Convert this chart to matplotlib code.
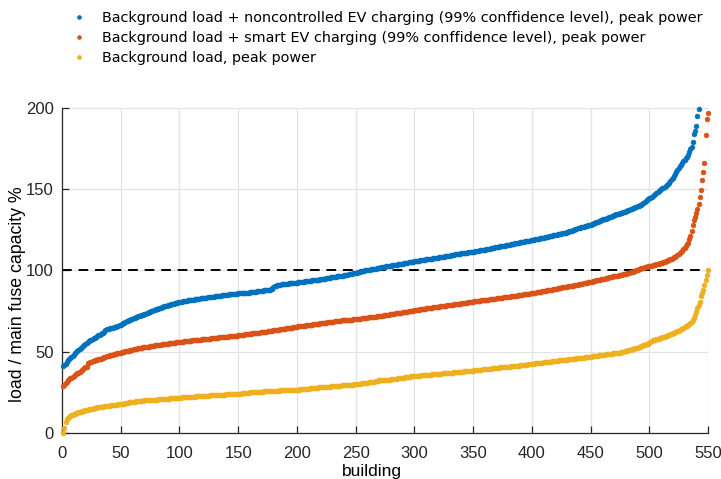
import numpy as np
import matplotlib

matplotlib.use("Agg")
import matplotlib.pyplot as plt  # noqa: E402

plt.rcParams["font.family"] = ["Liberation Sans", "DejaVu Sans"]

BLUE = "#0072BD"
RED = "#D95319"
YELLOW = "#EDB120"
AXC = "#262626"

# peak load per building (% of main fuse capacity), buildings sorted by load
uncontrolled = [
    41.0, 41.6, 42.3, 43.5, 45.0, 45.6, 46.2, 46.9, 47.5, 48.2,
    49.0, 49.8, 50.5, 51.2, 51.9, 52.5, 53.0, 53.6, 54.3, 54.9,
    55.5, 56.0, 56.4, 56.9, 57.3, 57.8, 58.2, 58.7, 59.1, 59.6,
    60.0, 60.4, 60.8, 61.2, 61.6, 62.0, 63.5, 63.7, 63.9, 64.1,
    64.3, 64.5, 64.7, 64.9, 65.1, 65.4, 65.7, 66.1, 66.4, 66.7,
    67.0, 67.4, 67.8, 68.2, 68.6, 69.0, 69.4, 69.7, 70.0, 70.3,
    70.6, 70.9, 71.2, 71.5, 71.8, 72.0, 72.3, 72.5, 72.8, 73.0,
    73.3, 73.6, 73.9, 74.2, 74.5, 74.8, 75.1, 75.4, 75.7, 76.0,
    76.3, 76.5, 76.8, 77.0, 77.3, 77.5, 77.8, 78.0, 78.3, 78.5,
    78.7, 78.9, 79.1, 79.3, 79.5, 79.7, 79.9, 80.1, 80.3, 80.5,
    80.6, 80.8, 80.9, 81.0, 81.2, 81.3, 81.5, 81.6, 81.7, 81.9,
    82.0, 82.1, 82.3, 82.4, 82.5, 82.6, 82.7, 82.8, 82.9, 83.0,
    83.1, 83.2, 83.3, 83.4, 83.5, 83.6, 83.7, 83.8, 83.9, 84.0,
    84.1, 84.2, 84.3, 84.4, 84.5, 84.6, 84.7, 84.8, 84.9, 85.0,
    85.1, 85.2, 85.2, 85.3, 85.4, 85.5, 85.6, 85.7, 85.7, 85.8,
    85.9, 85.9, 86.0, 86.1, 86.1, 86.2, 86.3, 86.3, 86.4, 86.5,
    86.6, 86.7, 86.8, 86.9, 87.0, 87.1, 87.2, 87.3, 87.4, 87.5,
    87.6, 87.7, 87.8, 87.9, 88.0, 88.1, 88.2, 88.3, 88.5, 90.0,
    90.3, 90.6, 90.8, 91.0, 91.2, 91.3, 91.4, 91.5, 91.6, 91.7,
    91.8, 91.9, 92.0, 92.0, 92.1, 92.2, 92.3, 92.3, 92.4, 92.5,
    92.6, 92.7, 92.8, 92.9, 93.0, 93.1, 93.2, 93.3, 93.4, 93.5,
    93.6, 93.7, 93.8, 93.9, 94.0, 94.1, 94.2, 94.3, 94.4, 94.5,
    94.6, 94.8, 94.9, 95.0, 95.2, 95.3, 95.4, 95.6, 95.7, 95.8,
    95.9, 96.0, 96.2, 96.3, 96.4, 96.5, 96.6, 96.7, 96.8, 97.0,
    97.1, 97.3, 97.4, 97.6, 97.7, 97.9, 98.0, 98.2, 98.3, 98.5,
    98.7, 98.9, 99.1, 99.3, 99.5, 99.6, 99.8, 100.0, 100.1, 100.3,
    100.4, 100.5, 100.6, 100.8, 100.9, 101.0, 101.1, 101.2, 101.4, 101.5,
    101.6, 101.8, 101.9, 102.1, 102.2, 102.4, 102.5, 102.7, 102.8, 103.0,
    103.1, 103.2, 103.4, 103.5, 103.6, 103.7, 103.9, 104.0, 104.1, 104.2,
    104.4, 104.5, 104.6, 104.8, 104.9, 105.0, 105.1, 105.2, 105.4, 105.5,
    105.6, 105.7, 105.8, 106.0, 106.1, 106.2, 106.3, 106.4, 106.6, 106.7,
    106.8, 107.0, 107.1, 107.2, 107.3, 107.4, 107.6, 107.7, 107.8, 107.9,
    108.0, 108.1, 108.3, 108.4, 108.5, 108.6, 108.7, 108.9, 109.0, 109.1,
    109.3, 109.4, 109.5, 109.7, 109.8, 109.9, 110.1, 110.2, 110.3, 110.4,
    110.6, 110.7, 110.8, 110.9, 111.0, 111.1, 111.2, 111.3, 111.4, 111.5,
    111.6, 111.8, 111.9, 112.0, 112.2, 112.3, 112.4, 112.6, 112.7, 112.8,
    113.0, 113.1, 113.3, 113.4, 113.5, 113.7, 113.8, 114.0, 114.1, 114.3,
    114.4, 114.5, 114.7, 114.8, 115.0, 115.1, 115.3, 115.4, 115.6, 115.7,
    115.8, 116.0, 116.1, 116.3, 116.4, 116.6, 116.7, 116.9, 117.0, 117.2,
    117.3, 117.5, 117.6, 117.8, 117.9, 118.0, 118.2, 118.3, 118.4, 118.5,
    118.7, 118.8, 119.0, 119.2, 119.3, 119.5, 119.7, 119.8, 120.0, 120.2,
    120.3, 120.5, 120.7, 120.8, 121.0, 121.2, 121.3, 121.5, 121.7, 121.8,
    122.0, 122.1, 122.3, 122.4, 122.5, 122.7, 122.9, 123.1, 123.3, 123.5,
    123.7, 124.0, 124.3, 124.5, 124.8, 125.0, 125.3, 125.5, 125.8, 126.0,
    126.2, 126.4, 126.6, 126.8, 127.0, 127.3, 127.5, 127.8, 128.0, 128.2,
    128.5, 128.8, 129.0, 129.3, 129.6, 129.9, 130.1, 130.4, 130.7, 131.0,
    131.3, 131.6, 131.8, 132.1, 132.4, 132.7, 133.0, 133.3, 133.6, 133.9,
    134.2, 134.4, 134.6, 134.8, 135.0, 135.3, 135.6, 135.9, 136.2, 136.5,
    136.8, 137.0, 137.3, 137.6, 137.8, 138.1, 138.4, 138.7, 139.0, 139.3,
    139.6, 140.0, 140.5, 141.0, 141.6, 142.2, 142.8, 143.3, 144.0, 144.5,
    144.8, 145.1, 145.5, 146.2, 146.9, 147.6, 148.3, 148.9, 149.5, 150.0,
    150.5, 150.9, 151.3, 151.8, 152.3, 153.0, 153.9, 154.8, 155.9, 157.0,
    158.2, 159.4, 160.6, 161.8, 163.0, 164.0, 165.0, 166.0, 167.0, 168.0,
    169.0, 170.0, 171.0, 172.5, 174.5, 176.0, 179.0, 184.0, 186.0, 189.0,
    195.0, 199.5,
]

smart = [
    29.0, 29.8, 30.6, 31.5, 32.5, 33.0, 33.6, 34.1, 34.7, 35.2,
    35.7, 36.2, 36.7, 37.2, 37.8, 38.3, 38.8, 39.3, 39.8, 40.3,
    40.8, 43.0, 43.3, 43.6, 43.8, 44.1, 44.4, 44.6, 44.9, 45.1,
    45.3, 45.6, 45.8, 46.1, 46.3, 46.6, 46.9, 47.2, 47.4, 47.6,
    47.8, 48.0, 48.2, 48.4, 48.6, 48.8, 49.0, 49.2, 49.4, 49.5,
    49.6, 49.8, 50.0, 50.2, 50.3, 50.5, 50.7, 50.9, 51.1, 51.3,
    51.5, 51.6, 51.8, 51.9, 52.0, 52.1, 52.3, 52.4, 52.6, 52.7,
    52.8, 53.0, 53.1, 53.2, 53.3, 53.5, 53.6, 53.7, 53.9, 54.0,
    54.1, 54.2, 54.3, 54.4, 54.5, 54.6, 54.7, 54.8, 54.9, 55.0,
    55.1, 55.2, 55.3, 55.4, 55.5, 55.6, 55.7, 55.8, 55.9, 56.0,
    56.1, 56.2, 56.2, 56.3, 56.4, 56.5, 56.6, 56.7, 56.7, 56.8,
    56.9, 57.0, 57.1, 57.2, 57.2, 57.3, 57.4, 57.5, 57.6, 57.6,
    57.7, 57.8, 57.9, 58.0, 58.0, 58.1, 58.2, 58.3, 58.4, 58.4,
    58.5, 58.6, 58.7, 58.8, 58.8, 58.9, 59.0, 59.1, 59.2, 59.2,
    59.3, 59.4, 59.5, 59.6, 59.6, 59.7, 59.8, 59.9, 59.9, 60.0,
    60.1, 60.2, 60.3, 60.4, 60.5, 60.6, 60.7, 60.8, 60.9, 61.0,
    61.1, 61.2, 61.3, 61.4, 61.5, 61.6, 61.7, 61.8, 61.9, 62.0,
    62.1, 62.2, 62.3, 62.4, 62.6, 62.7, 62.8, 62.9, 63.0, 63.1,
    63.2, 63.3, 63.4, 63.5, 63.6, 63.7, 63.9, 64.0, 64.1, 64.2,
    64.3, 64.4, 64.5, 64.6, 64.7, 64.8, 65.0, 65.1, 65.2, 65.4,
    65.5, 65.6, 65.7, 65.8, 65.9, 66.0, 66.1, 66.2, 66.3, 66.4,
    66.5, 66.6, 66.7, 66.8, 66.9, 67.0, 67.1, 67.2, 67.3, 67.4,
    67.5, 67.6, 67.7, 67.8, 67.9, 68.0, 68.1, 68.2, 68.3, 68.4,
    68.5, 68.6, 68.7, 68.8, 68.9, 69.0, 69.1, 69.2, 69.3, 69.4,
    69.5, 69.5, 69.6, 69.7, 69.7, 69.8, 69.8, 69.9, 69.9, 70.0,
    70.1, 70.2, 70.3, 70.4, 70.5, 70.6, 70.7, 70.8, 70.9, 71.0,
    71.1, 71.2, 71.3, 71.3, 71.4, 71.5, 71.6, 71.7, 71.8, 71.9,
    72.0, 72.1, 72.2, 72.3, 72.4, 72.5, 72.6, 72.8, 73.0, 73.1,
    73.2, 73.3, 73.4, 73.5, 73.6, 73.8, 73.9, 74.0, 74.1, 74.2,
    74.3, 74.4, 74.6, 74.7, 74.8, 74.9, 75.0, 75.2, 75.3, 75.5,
    75.6, 75.7, 75.8, 75.9, 76.0, 76.1, 76.2, 76.3, 76.5, 76.6,
    76.7, 76.8, 76.9, 77.0, 77.1, 77.2, 77.3, 77.4, 77.5, 77.6,
    77.7, 77.8, 77.9, 78.0, 78.1, 78.3, 78.4, 78.5, 78.6, 78.7,
    78.8, 78.9, 79.0, 79.1, 79.2, 79.3, 79.4, 79.5, 79.6, 79.7,
    79.8, 79.9, 80.0, 80.1, 80.2, 80.3, 80.4, 80.5, 80.6, 80.8,
    80.9, 81.0, 81.1, 81.2, 81.3, 81.4, 81.5, 81.6, 81.7, 81.8,
    81.9, 82.0, 82.1, 82.2, 82.3, 82.4, 82.5, 82.6, 82.7, 82.8,
    82.9, 83.0, 83.1, 83.2, 83.3, 83.4, 83.5, 83.6, 83.7, 83.8,
    83.9, 84.0, 84.1, 84.2, 84.3, 84.4, 84.5, 84.6, 84.7, 84.9,
    85.0, 85.1, 85.2, 85.3, 85.4, 85.5, 85.6, 85.7, 85.9, 86.0,
    86.1, 86.2, 86.4, 86.5, 86.6, 86.8, 86.9, 87.0, 87.2, 87.3,
    87.4, 87.6, 87.7, 87.8, 88.0, 88.1, 88.2, 88.4, 88.5, 88.6,
    88.8, 88.9, 89.0, 89.2, 89.3, 89.5, 89.6, 89.7, 89.9, 90.0,
    90.1, 90.3, 90.4, 90.6, 90.7, 90.9, 91.0, 91.2, 91.3, 91.5,
    91.6, 91.8, 91.9, 92.1, 92.2, 92.4, 92.5, 92.7, 92.8, 93.0,
    93.1, 93.3, 93.5, 93.6, 93.8, 94.0, 94.1, 94.3, 94.5, 94.6,
    94.8, 95.0, 95.1, 95.3, 95.5, 95.7, 95.9, 96.1, 96.3, 96.5,
    96.6, 96.7, 96.8, 96.9, 97.0, 97.2, 97.4, 97.6, 97.8, 98.0,
    98.2, 98.4, 98.6, 98.8, 99.0, 99.2, 99.4, 99.7, 100.0, 100.3,
    100.6, 101.0, 101.2, 101.4, 101.6, 101.8, 102.0, 102.2, 102.4, 102.6,
    102.8, 103.0, 103.1, 103.3, 103.5, 103.7, 103.9, 104.1, 104.3, 104.5,
    104.7, 104.9, 105.2, 105.5, 105.8, 106.1, 106.4, 106.7, 107.1, 107.5,
    108.0, 108.5, 109.0, 109.5, 110.0, 110.6, 111.4, 112.2, 113.0, 114.0,
    115.0, 116.0, 117.0, 119.0, 121.0, 124.0, 128.0, 131.0, 133.0, 135.5,
    138.0, 141.0, 145.0, 149.5, 155.7, 160.8, 166.0, 183.0, 193.0, 197.0,
]

background = [
    0.0, 2.9, 7.0, 8.5, 9.5, 10.1, 10.6, 11.0, 11.3, 11.6,
    11.9, 12.2, 12.5, 12.7, 12.9, 13.2, 13.4, 13.6, 13.8, 14.0,
    14.2, 14.4, 14.5, 14.7, 14.9, 15.0, 15.2, 15.3, 15.5, 15.7,
    15.8, 16.0, 16.1, 16.2, 16.3, 16.4, 16.5, 16.6, 16.7, 16.8,
    16.9, 17.0, 17.1, 17.2, 17.3, 17.4, 17.5, 17.6, 17.7, 17.8,
    17.9, 18.0, 18.1, 18.2, 18.4, 18.6, 18.8, 18.9, 19.0, 19.1,
    19.2, 19.3, 19.4, 19.5, 19.6, 19.6, 19.7, 19.8, 19.9, 20.0,
    20.0, 20.1, 20.1, 20.2, 20.2, 20.3, 20.3, 20.4, 20.4, 20.5,
    20.6, 20.7, 20.8, 20.8, 20.9, 21.0, 21.0, 21.1, 21.1, 21.2,
    21.2, 21.3, 21.3, 21.4, 21.4, 21.5, 21.5, 21.6, 21.7, 21.8,
    21.8, 21.9, 21.9, 22.0, 22.0, 22.1, 22.1, 22.2, 22.2, 22.3,
    22.3, 22.4, 22.4, 22.5, 22.5, 22.6, 22.6, 22.7, 22.7, 22.8,
    22.8, 22.9, 22.9, 23.0, 23.0, 23.1, 23.1, 23.2, 23.2, 23.3,
    23.3, 23.3, 23.4, 23.4, 23.5, 23.5, 23.5, 23.6, 23.6, 23.7,
    23.7, 23.7, 23.8, 23.8, 23.8, 23.9, 23.9, 23.9, 24.0, 24.0,
    24.1, 24.2, 24.3, 24.4, 24.5, 24.6, 24.7, 24.8, 24.9, 25.0,
    25.0, 25.1, 25.1, 25.2, 25.2, 25.3, 25.3, 25.4, 25.4, 25.5,
    25.5, 25.6, 25.6, 25.7, 25.7, 25.8, 25.8, 25.9, 25.9, 26.0,
    26.0, 26.0, 26.1, 26.1, 26.1, 26.2, 26.2, 26.2, 26.3, 26.3,
    26.3, 26.3, 26.4, 26.4, 26.4, 26.4, 26.5, 26.5, 26.5, 26.5,
    26.6, 26.7, 26.8, 26.8, 26.9, 27.0, 27.1, 27.1, 27.2, 27.3,
    27.4, 27.4, 27.5, 27.6, 27.7, 27.7, 27.8, 27.9, 28.0, 28.0,
    28.1, 28.2, 28.3, 28.3, 28.4, 28.5, 28.6, 28.6, 28.7, 28.8,
    28.9, 28.9, 29.0, 29.0, 29.1, 29.2, 29.2, 29.3, 29.3, 29.4,
    29.4, 29.5, 29.5, 29.6, 29.6, 29.7, 29.8, 29.8, 29.9, 30.0,
    30.1, 30.2, 30.3, 30.4, 30.5, 30.6, 30.7, 30.8, 30.9, 31.0,
    31.1, 31.2, 31.3, 31.4, 31.5, 31.6, 31.7, 31.9, 32.1, 32.3,
    32.5, 32.6, 32.6, 32.7, 32.7, 32.8, 32.8, 32.9, 32.9, 33.0,
    33.1, 33.2, 33.3, 33.4, 33.5, 33.6, 33.7, 33.8, 33.9, 34.0,
    34.1, 34.2, 34.3, 34.5, 34.6, 34.7, 34.8, 34.9, 35.0, 35.0,
    35.1, 35.2, 35.2, 35.3, 35.3, 35.4, 35.5, 35.5, 35.6, 35.7,
    35.7, 35.8, 35.9, 35.9, 36.0, 36.1, 36.1, 36.2, 36.3, 36.3,
    36.4, 36.5, 36.5, 36.6, 36.7, 36.8, 36.8, 36.9, 37.0, 37.0,
    37.1, 37.2, 37.2, 37.3, 37.4, 37.5, 37.5, 37.6, 37.7, 37.8,
    37.8, 37.9, 38.0, 38.0, 38.1, 38.2, 38.2, 38.3, 38.3, 38.4,
    38.5, 38.6, 38.7, 38.7, 38.8, 38.9, 39.0, 39.1, 39.1, 39.2,
    39.3, 39.4, 39.5, 39.5, 39.6, 39.7, 39.8, 39.9, 39.9, 40.0,
    40.1, 40.2, 40.3, 40.3, 40.4, 40.5, 40.6, 40.7, 40.7, 40.8,
    40.9, 41.0, 41.1, 41.1, 41.2, 41.3, 41.4, 41.5, 41.5, 41.6,
    41.7, 41.8, 41.9, 41.9, 42.0, 42.1, 42.2, 42.3, 42.4, 42.5,
    42.6, 42.7, 42.8, 42.8, 42.9, 43.0, 43.1, 43.2, 43.3, 43.4,
    43.5, 43.6, 43.7, 43.7, 43.8, 43.9, 44.0, 44.1, 44.2, 44.3,
    44.4, 44.5, 44.6, 44.6, 44.7, 44.8, 44.9, 45.0, 45.1, 45.2,
    45.3, 45.4, 45.5, 45.5, 45.6, 45.7, 45.8, 45.9, 46.0, 46.1,
    46.2, 46.3, 46.4, 46.4, 46.5, 46.6, 46.7, 46.8, 46.9, 47.0,
    47.1, 47.2, 47.3, 47.4, 47.5, 47.6, 47.7, 47.8, 47.9, 48.0,
    48.1, 48.2, 48.3, 48.4, 48.5, 48.6, 48.7, 48.8, 48.9, 49.0,
    49.1, 49.2, 49.3, 49.4, 49.5, 49.7, 49.9, 50.1, 50.3, 50.5,
    50.7, 50.9, 51.1, 51.3, 51.5, 51.7, 51.9, 52.1, 52.3, 52.5,
    52.8, 53.0, 53.3, 53.6, 53.9, 54.2, 54.5, 54.8, 55.0, 55.5,
    56.0, 56.5, 57.0, 57.2, 57.4, 57.6, 57.9, 58.1, 58.4, 58.6,
    58.8, 59.0, 59.3, 59.6, 59.9, 60.2, 60.5, 60.8, 61.0, 61.3,
    61.6, 61.9, 62.2, 62.5, 62.9, 63.3, 63.7, 64.1, 64.5, 65.0,
    65.5, 66.0, 66.5, 67.0, 67.5, 68.4, 69.5, 71.0, 72.6, 74.6,
    76.7, 78.8, 80.8, 84.0, 86.0, 88.0, 91.0, 94.0, 97.0, 100.5,
]

series = [
    (uncontrolled, BLUE,
     "Background load + noncontrolled EV charging (99% conffidence level), peak power"),
    (smart, RED,
     "Background load + smart EV charging (99% conffidence level), peak power"),
    (background, YELLOW, "Background load, peak power"),
]

fig = plt.figure(figsize=(7.21, 4.79), dpi=100)
ax = fig.add_axes([0.086, 0.096, 0.896, 0.679])

handles = []
for vals, col, label in series:
    x = np.arange(1, len(vals) + 1)
    h, = ax.plot(x, vals, "o", ms=3.3, mfc=col, mec=col, mew=0.6, label=label,
                 clip_on=False, zorder=3)
    handles.append(h)

# fuse limit
ax.axhline(100, color="black", lw=1.4, ls=(0, (5, 3.5)), zorder=2)

ax.set_xlim(0, 550)
ax.set_ylim(0, 200)
ax.set_xticks(np.arange(0, 551, 50))
ax.set_yticks(np.arange(0, 201, 50))
ax.grid(True, color="#e3e3e3", lw=0.9)
ax.set_axisbelow(True)
for s in ("top", "right"):
    ax.spines[s].set_visible(False)
for s in ("left", "bottom"):
    ax.spines[s].set_color(AXC)
    ax.spines[s].set_linewidth(0.9)
ax.tick_params(direction="in", length=5, width=0.9, colors=AXC,
               labelsize=12, labelcolor=AXC)
ax.tick_params(axis="x", pad=9)
ax.tick_params(axis="y", pad=6)
ax.set_xlabel("building", fontsize=12.5, color="black")
ax.set_ylabel("load / main fuse capacity %", fontsize=12.8, color="black")
ax.xaxis.set_label_coords(0.479, -0.095)
ax.yaxis.set_label_coords(-0.056, 0.428)

fig.legend(handles=handles, loc="upper left", bbox_to_anchor=(0.085, 1.005),
           frameon=False, prop={"family": "DejaVu Sans", "size": 10.4},
           handlelength=0.6, handletextpad=1.3, labelspacing=0.42,
           markerscale=0.8)

fig.savefig("out.png", dpi=100)
